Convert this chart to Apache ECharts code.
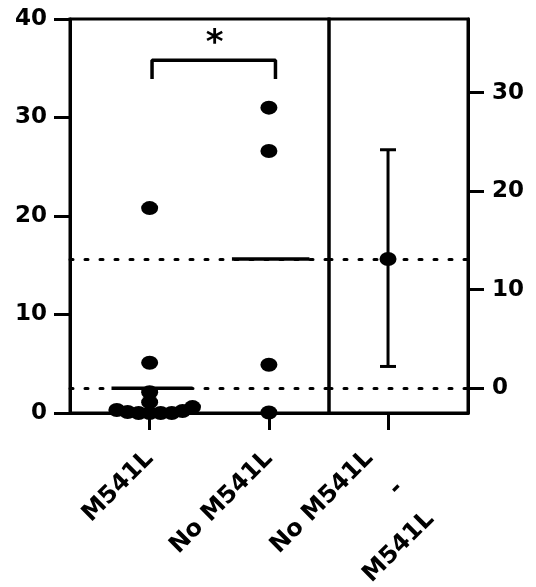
<!DOCTYPE html>
<html>
<head>
<meta charset="utf-8">
<script src="https://cdn.jsdelivr.net/npm/echarts@6/dist/echarts.min.js"></script>
<style>html,body{margin:0;padding:0;background:#fff;}#chart{width:536px;height:587px;}</style>
</head>
<body>
<div id="chart"></div>
<script>
// ---- data ----
const categories = ['M541L', 'No M541L'];
const diffLabel = 'No M541L\n-\nM541L';
const valuesM541L = [20.8, 5.1, 2.1, 1.1, 0.6, 0.3, 0.2, 0.1, 0, 0, 0, 0];
const valuesNoM541L = [31.0, 26.6, 4.9, 0.05];
const diffCI = [2.2, 24.2];           // 95% CI of the difference (low, high)
const leftTicks = [0, 10, 20, 30, 40];
const rightTicks = [0, 10, 20, 30];
const sigPair = [0, 1];
const sigText = '*';
const sigBracket = [33.9, 35.8];      // leg bottom, bracket top (left axis units)

// ---- derived ----
const mean = a => a.reduce((s, v) => s + v, 0) / a.length;
const meanA = mean(valuesM541L);
const meanB = mean(valuesNoM541L);
const meanDiff = meanB - meanA;

// layout
const G0 = {left: 70, top: 19, width: 259, height: 394};
const G1 = {left: 329, top: 19, width: 139, height: 394};
const xMin0 = -0.668, xMax0 = 1.504;
const xMin1 = -0.496, xMax1 = 0.672;
const diffLabelShift = 0.1;   // label anchor nudge (axis units) for the stacked label
const pxPerX = G0.width / (xMax0 - xMin0);
const pxPerY = G0.height / 40;
const DOT = [17, 14];

// simple beeswarm (pixel space, ellipse-normalised)
function swarm(vals, center) {
  const order = vals.map((v, i) => i).sort((a, b) => vals[a] - vals[b]);
  const placed = [];
  const out = new Array(vals.length);
  const minD = 0.65;
  order.forEach(i => {
    const y = vals[i] * pxPerY / DOT[1];
    const cands = [0];
    placed.forEach(p => {
      const dy = y - p.y;
      if (Math.abs(dy) < minD) {
        const dx = Math.sqrt(minD * minD - dy * dy);
        cands.push(p.x + dx, p.x - dx);
      }
    });
    cands.sort((a, b) => Math.abs(a) - Math.abs(b) || b - a);
    let x = 0;
    for (const c of cands) {
      if (placed.every(p => Math.hypot(c - p.x, y - p.y) >= minD - 1e-6)) { x = c; break; }
    }
    placed.push({x, y});
    out[i] = [center + x * DOT[0] / pxPerX, vals[i]];
  });
  return out;
}

const font = 'DejaVu Sans';
const black = '#000';
const dotted = {color: black, width: 3, type: [3, 12], cap: 'round'};
const dotStyle = {color: black, opacity: 1};
const gridBase = {show: true, borderColor: black, borderWidth: 3, backgroundColor: 'transparent',
  containLabel: false, outerBoundsMode: 'none'};

const option = {
  animation: false,
  backgroundColor: '#fff',
  grid: [Object.assign({}, gridBase, G0), Object.assign({}, gridBase, G1)],
  xAxis: [
    {
      gridIndex: 0, type: 'value', min: xMin0, max: xMax0,
      axisLine: {show: true, onZero: false, lineStyle: {color: black, width: 3}},
      splitLine: {show: false},
      axisTick: {show: true, customValues: [0, 1], length: 17, lineStyle: {color: black, width: 3}},
      axisLabel: {
        customValues: [0, 1], formatter: v => categories[Math.round(v)],
        rotate: 45, margin: 42, color: black, fontFamily: font, fontWeight: 'bold', fontSize: 24
      }
    },
    {
      gridIndex: 1, type: 'value', min: xMin1, max: xMax1,
      axisLine: {show: true, onZero: false, lineStyle: {color: black, width: 3}},
      splitLine: {show: false},
      axisTick: {show: true, customValues: [0], length: 17, lineStyle: {color: black, width: 3}},
      axisLabel: {
        customValues: [diffLabelShift], formatter: () => diffLabel,
        rotate: 45, margin: 72, lineHeight: 43, color: black, fontFamily: font, fontWeight: 'bold', fontSize: 24
      }
    }
  ],
  yAxis: [
    {
      gridIndex: 0, type: 'value', min: 0, max: 40, interval: 10,
      axisLine: {show: true, onZero: false, lineStyle: {color: black, width: 3}},
      splitLine: {show: false},
      axisTick: {show: true, length: 16, lineStyle: {color: black, width: 3}},
      axisLabel: {margin: 23, color: black, fontFamily: font, fontWeight: 'bold', fontSize: 23,
        formatter: v => leftTicks.includes(v) ? String(v) : ''}
    },
    {
      gridIndex: 1, type: 'value', position: 'right', min: 0 - meanA, max: 40 - meanA,
      axisLine: {show: true, onZero: false, lineStyle: {color: black, width: 3}},
      splitLine: {show: false},
      axisTick: {show: true, customValues: rightTicks, length: 16, lineStyle: {color: black, width: 3}},
      axisLabel: {customValues: rightTicks, margin: 24, color: black, fontFamily: font, fontWeight: 'bold', fontSize: 23}
    }
  ],
  series: [
    {
      type: 'line', xAxisIndex: 0, yAxisIndex: 0, data: [], silent: true,
      markLine: {silent: true, symbol: 'none', label: {show: false}, lineStyle: dotted,
        data: [{yAxis: meanA}, {yAxis: meanB}]}
    },
    {
      type: 'line', xAxisIndex: 1, yAxisIndex: 1, data: [], silent: true,
      markLine: {silent: true, symbol: 'none', label: {show: false}, lineStyle: dotted,
        data: [{yAxis: 0}, {yAxis: meanDiff}]}
    },
    {type: 'line', xAxisIndex: 0, yAxisIndex: 0, symbol: 'none', lineStyle: {color: black, width: 3.5},
      data: [[-0.32, meanA], [0.36, meanA]]},
    {type: 'line', xAxisIndex: 0, yAxisIndex: 0, symbol: 'none', lineStyle: {color: black, width: 3.5},
      data: [[1 - 0.31, meanB], [1 + 0.34, meanB]]},
    {type: 'scatter', xAxisIndex: 0, yAxisIndex: 0, symbol: 'circle', symbolSize: DOT,
      itemStyle: dotStyle, data: swarm(valuesM541L, 0), z: 5},
    {type: 'scatter', xAxisIndex: 0, yAxisIndex: 0, symbol: 'circle', symbolSize: DOT,
      itemStyle: dotStyle, data: swarm(valuesNoM541L, 1), z: 5},
    {type: 'line', xAxisIndex: 0, yAxisIndex: 0, symbol: 'none', lineStyle: {color: black, width: 3.5},
      data: [[sigPair[0] + 0.02, sigBracket[0]], [sigPair[0] + 0.02, sigBracket[1]],
             [sigPair[1] + 0.055, sigBracket[1]], [sigPair[1] + 0.055, sigBracket[0]]]},
    {type: 'scatter', xAxisIndex: 0, yAxisIndex: 0, symbolSize: 0, itemStyle: dotStyle,
      data: [[(sigPair[0] + sigPair[1]) / 2 + 0.046, 37.4]],
      label: {show: true, position: 'inside', formatter: sigText, color: black, opacity: 1,
        fontFamily: font, fontWeight: 'bold', fontSize: 34}},
    {type: 'custom', xAxisIndex: 1, yAxisIndex: 1, data: [[0, diffCI[0], diffCI[1]]],
      renderItem: (params, api) => {
        const lo = api.coord([api.value(0), api.value(1)]);
        const hi = api.coord([api.value(0), api.value(2)]);
        const st = {stroke: black, lineWidth: 3};
        const cw = 8;
        return {type: 'group', children: [
          {type: 'line', shape: {x1: lo[0], y1: lo[1], x2: hi[0], y2: hi[1]}, style: st},
          {type: 'line', shape: {x1: hi[0] - cw, y1: hi[1], x2: hi[0] + cw, y2: hi[1]}, style: st},
          {type: 'line', shape: {x1: lo[0] - cw, y1: lo[1], x2: lo[0] + cw, y2: lo[1]}, style: st}
        ]};
      }},
    {type: 'scatter', xAxisIndex: 1, yAxisIndex: 1, symbol: 'circle', symbolSize: DOT,
      itemStyle: dotStyle, data: [[0, meanDiff]], z: 5}
  ]
};

const chart = echarts.init(document.getElementById('chart'), null, {renderer: 'canvas'});
chart.setOption(option);
</script>
</body>
</html>
